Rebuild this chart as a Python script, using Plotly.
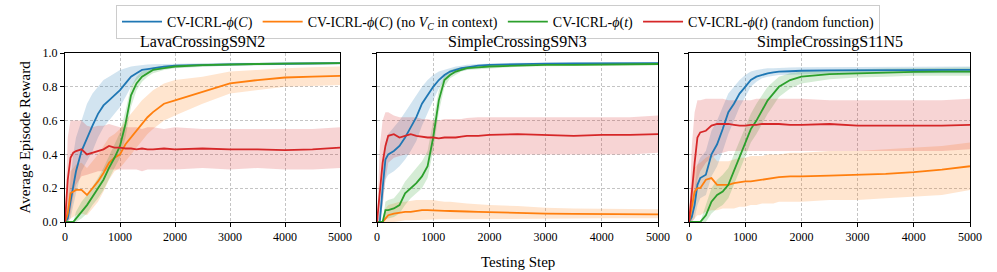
import plotly.graph_objects as go

STEPS = [0, 50, 100, 150, 200, 300, 400, 500, 600, 700, 800, 900, 1000, 1100, 1200,
         1300, 1400, 1500, 1600, 1800, 2000, 2500, 3000, 3500, 4000, 4500, 5000]

PANEL_TITLES = ["LavaCrossingS9N2", "SimpleCrossingS9N3", "SimpleCrossingS11N5"]
SERIES_NAMES = ["CV-ICRL-<i>ϕ</i>(<i>C</i>)",
                "CV-ICRL-<i>ϕ</i>(<i>C</i>) (no <i>V</i><sub><i>C</i></sub> in context)",
                "CV-ICRL-<i>ϕ</i>(<i>t</i>)",
                "CV-ICRL-<i>ϕ</i>(<i>t</i>) (random function)"]
X_TICKS = [0, 1000, 2000, 3000, 4000, 5000]
Y_TICKS = [0.0, 0.2, 0.4, 0.6, 0.8, 1.0]

# ---- LavaCrossingS9N2 ----
lava_blue = [0, 0.02, 0.12, 0.22, 0.3, 0.42, 0.5, 0.57, 0.64, 0.69, 0.72, 0.75, 0.78, 0.82, 0.86, 0.88, 0.9, 0.905, 0.91, 0.92, 0.925, 0.93, 0.933, 0.935, 0.937, 0.938, 0.94]
lava_blue_lo = [0, 0, 0.02, 0.1, 0.17, 0.3, 0.36, 0.42, 0.5, 0.56, 0.6, 0.64, 0.68, 0.74, 0.8, 0.84, 0.87, 0.885, 0.895, 0.905, 0.912, 0.92, 0.925, 0.927, 0.929, 0.93, 0.932]
lava_blue_hi = [0, 0.1, 0.25, 0.4, 0.5, 0.6, 0.7, 0.76, 0.8, 0.84, 0.86, 0.88, 0.9, 0.91, 0.92, 0.925, 0.93, 0.932, 0.934, 0.936, 0.938, 0.94, 0.942, 0.943, 0.944, 0.945, 0.946]
lava_orange = [0, 0.05, 0.17, 0.18, 0.19, 0.19, 0.16, 0.2, 0.24, 0.29, 0.35, 0.38, 0.4, 0.46, 0.5, 0.54, 0.58, 0.62, 0.65, 0.7, 0.72, 0.77, 0.82, 0.84, 0.855, 0.86, 0.865]
lava_orange_lo = [0, 0, 0.02, 0.03, 0.04, 0.05, 0.04, 0.08, 0.12, 0.18, 0.25, 0.3, 0.32, 0.36, 0.4, 0.44, 0.48, 0.52, 0.55, 0.6, 0.63, 0.7, 0.76, 0.78, 0.8, 0.805, 0.81]
lava_orange_hi = [0, 0.15, 0.3, 0.32, 0.34, 0.35, 0.32, 0.36, 0.4, 0.45, 0.5, 0.52, 0.55, 0.6, 0.64, 0.68, 0.72, 0.75, 0.78, 0.82, 0.84, 0.86, 0.89, 0.9, 0.91, 0.915, 0.92]
lava_green = [0, 0, 0, 0, 0.02, 0.06, 0.1, 0.15, 0.2, 0.25, 0.32, 0.38, 0.45, 0.58, 0.75, 0.82, 0.86, 0.88, 0.9, 0.91, 0.92, 0.928, 0.933, 0.935, 0.937, 0.938, 0.94]
lava_green_lo = [0, 0, 0, 0, 0, 0.02, 0.05, 0.1, 0.14, 0.19, 0.26, 0.32, 0.38, 0.5, 0.68, 0.78, 0.83, 0.86, 0.88, 0.9, 0.91, 0.92, 0.926, 0.928, 0.93, 0.932, 0.933]
lava_green_hi = [0, 0, 0, 0, 0.06, 0.12, 0.16, 0.21, 0.26, 0.32, 0.39, 0.45, 0.53, 0.66, 0.8, 0.86, 0.89, 0.9, 0.915, 0.925, 0.93, 0.936, 0.94, 0.942, 0.944, 0.945, 0.946]
lava_red = [0, 0.25, 0.38, 0.41, 0.42, 0.43, 0.4, 0.41, 0.42, 0.43, 0.45, 0.44, 0.44, 0.435, 0.435, 0.43, 0.435, 0.43, 0.43, 0.435, 0.43, 0.435, 0.43, 0.43, 0.425, 0.43, 0.44]
lava_red_lo = [0, 0, 0.05, 0.15, 0.22, 0.27, 0.28, 0.29, 0.3, 0.3, 0.31, 0.31, 0.31, 0.31, 0.31, 0.31, 0.3, 0.31, 0.31, 0.31, 0.31, 0.32, 0.31, 0.32, 0.31, 0.31, 0.32]
lava_red_hi = [0, 0.5, 0.6, 0.6, 0.6, 0.6, 0.57, 0.56, 0.57, 0.57, 0.58, 0.57, 0.56, 0.56, 0.56, 0.56, 0.55, 0.56, 0.56, 0.55, 0.56, 0.55, 0.55, 0.55, 0.55, 0.55, 0.56]

# ---- SimpleCrossingS9N3 ----
s9_blue = [0, 0, 0.2, 0.37, 0.4, 0.42, 0.45, 0.5, 0.56, 0.62, 0.7, 0.75, 0.8, 0.84, 0.87, 0.89, 0.9, 0.91, 0.915, 0.925, 0.93, 0.935, 0.937, 0.938, 0.938, 0.94, 0.94]
s9_blue_lo = [0, 0, 0.1, 0.25, 0.28, 0.3, 0.33, 0.37, 0.42, 0.48, 0.57, 0.65, 0.72, 0.79, 0.84, 0.87, 0.88, 0.895, 0.9, 0.915, 0.92, 0.928, 0.93, 0.932, 0.933, 0.934, 0.935]
s9_blue_hi = [0, 0.05, 0.3, 0.47, 0.52, 0.56, 0.6, 0.65, 0.7, 0.75, 0.8, 0.84, 0.87, 0.89, 0.9, 0.91, 0.92, 0.925, 0.93, 0.935, 0.938, 0.942, 0.943, 0.944, 0.944, 0.945, 0.945]
s9_orange = [0, 0, 0, 0.02, 0.04, 0.05, 0.055, 0.06, 0.06, 0.065, 0.07, 0.07, 0.07, 0.068, 0.066, 0.065, 0.065, 0.063, 0.062, 0.06, 0.058, 0.055, 0.05, 0.048, 0.046, 0.045, 0.045]
s9_orange_lo = [0, 0, 0, 0, 0, 0, 0.005, 0.01, 0.01, 0.012, 0.015, 0.015, 0.015, 0.016, 0.016, 0.017, 0.017, 0.018, 0.018, 0.018, 0.02, 0.02, 0.02, 0.02, 0.022, 0.022, 0.022]
s9_orange_hi = [0, 0, 0, 0.08, 0.1, 0.11, 0.12, 0.12, 0.125, 0.13, 0.13, 0.13, 0.13, 0.125, 0.12, 0.12, 0.118, 0.115, 0.11, 0.105, 0.1, 0.095, 0.085, 0.08, 0.078, 0.076, 0.075]
s9_green = [0, 0, 0, 0.07, 0.07, 0.08, 0.1, 0.17, 0.2, 0.23, 0.27, 0.33, 0.5, 0.72, 0.84, 0.87, 0.89, 0.9, 0.91, 0.915, 0.92, 0.925, 0.93, 0.93, 0.932, 0.933, 0.935]
s9_green_lo = [0, 0, 0, 0.02, 0.02, 0.03, 0.05, 0.1, 0.14, 0.17, 0.2, 0.26, 0.42, 0.65, 0.8, 0.85, 0.87, 0.89, 0.9, 0.905, 0.91, 0.918, 0.922, 0.924, 0.926, 0.927, 0.928]
s9_green_hi = [0, 0, 0, 0.12, 0.13, 0.14, 0.18, 0.24, 0.28, 0.32, 0.36, 0.42, 0.6, 0.78, 0.87, 0.9, 0.91, 0.915, 0.92, 0.925, 0.93, 0.932, 0.936, 0.937, 0.938, 0.94, 0.942]
s9_red = [0, 0.2, 0.35, 0.45, 0.51, 0.52, 0.5, 0.51, 0.52, 0.51, 0.505, 0.5, 0.5, 0.495, 0.5, 0.5, 0.5, 0.505, 0.51, 0.51, 0.515, 0.52, 0.515, 0.51, 0.515, 0.515, 0.52]
s9_red_lo = [0, 0, 0.1, 0.25, 0.35, 0.38, 0.39, 0.4, 0.4, 0.4, 0.4, 0.4, 0.4, 0.4, 0.4, 0.4, 0.4, 0.4, 0.4, 0.4, 0.4, 0.4, 0.4, 0.4, 0.4, 0.4, 0.41]
s9_red_hi = [0, 0.45, 0.6, 0.65, 0.65, 0.63, 0.62, 0.62, 0.62, 0.62, 0.61, 0.61, 0.6, 0.6, 0.61, 0.61, 0.61, 0.61, 0.615, 0.62, 0.62, 0.62, 0.62, 0.62, 0.62, 0.62, 0.63]

# ---- SimpleCrossingS11N5 ----
s11_blue = [0, 0.03, 0.1, 0.22, 0.26, 0.28, 0.4, 0.46, 0.55, 0.65, 0.7, 0.76, 0.8, 0.84, 0.86, 0.87, 0.88, 0.885, 0.89, 0.892, 0.895, 0.897, 0.898, 0.898, 0.899, 0.9, 0.9]
s11_blue_lo = [0, 0, 0.02, 0.1, 0.14, 0.16, 0.27, 0.33, 0.42, 0.52, 0.6, 0.68, 0.74, 0.8, 0.83, 0.85, 0.86, 0.865, 0.87, 0.872, 0.875, 0.878, 0.88, 0.88, 0.88, 0.88, 0.88]
s11_blue_hi = [0, 0.1, 0.2, 0.34, 0.38, 0.42, 0.54, 0.6, 0.68, 0.76, 0.8, 0.84, 0.87, 0.89, 0.9, 0.905, 0.91, 0.91, 0.912, 0.914, 0.915, 0.916, 0.917, 0.918, 0.918, 0.92, 0.92]
s11_orange = [0, 0.1, 0.18, 0.2, 0.2, 0.25, 0.26, 0.22, 0.22, 0.22, 0.23, 0.235, 0.24, 0.24, 0.245, 0.25, 0.255, 0.26, 0.265, 0.27, 0.27, 0.275, 0.28, 0.285, 0.295, 0.31, 0.33]
s11_orange_lo = [0, 0, 0.02, 0.04, 0.04, 0.06, 0.07, 0.07, 0.08, 0.08, 0.08, 0.09, 0.09, 0.1, 0.1, 0.11, 0.11, 0.11, 0.12, 0.12, 0.12, 0.13, 0.13, 0.14, 0.15, 0.16, 0.19]
s11_orange_hi = [0, 0.2, 0.32, 0.34, 0.35, 0.38, 0.4, 0.36, 0.36, 0.36, 0.37, 0.38, 0.38, 0.39, 0.39, 0.39, 0.4, 0.4, 0.4, 0.41, 0.41, 0.42, 0.42, 0.43, 0.44, 0.45, 0.47]
s11_green = [0, 0, 0, 0, 0, 0.04, 0.12, 0.16, 0.18, 0.22, 0.3, 0.38, 0.46, 0.55, 0.6, 0.66, 0.72, 0.76, 0.8, 0.84, 0.86, 0.875, 0.88, 0.885, 0.888, 0.89, 0.89]
s11_green_lo = [0, 0, 0, 0, 0, 0, 0.05, 0.08, 0.1, 0.14, 0.22, 0.3, 0.38, 0.47, 0.52, 0.58, 0.64, 0.69, 0.74, 0.79, 0.82, 0.845, 0.855, 0.86, 0.865, 0.865, 0.865]
s11_green_hi = [0, 0, 0, 0, 0, 0.1, 0.2, 0.25, 0.28, 0.32, 0.4, 0.48, 0.56, 0.64, 0.7, 0.75, 0.8, 0.83, 0.86, 0.88, 0.89, 0.9, 0.905, 0.908, 0.91, 0.912, 0.914]
s11_red = [0, 0.2, 0.35, 0.5, 0.53, 0.54, 0.57, 0.58, 0.58, 0.58, 0.575, 0.57, 0.57, 0.575, 0.575, 0.58, 0.58, 0.58, 0.58, 0.575, 0.575, 0.58, 0.57, 0.57, 0.57, 0.57, 0.575]
s11_red_lo = [0, 0, 0.1, 0.25, 0.3, 0.35, 0.38, 0.4, 0.41, 0.42, 0.42, 0.42, 0.42, 0.42, 0.42, 0.42, 0.42, 0.42, 0.42, 0.42, 0.42, 0.42, 0.42, 0.42, 0.42, 0.42, 0.43]
s11_red_hi = [0, 0.45, 0.65, 0.72, 0.72, 0.73, 0.73, 0.73, 0.73, 0.72, 0.72, 0.72, 0.72, 0.72, 0.73, 0.73, 0.73, 0.73, 0.73, 0.73, 0.73, 0.72, 0.72, 0.72, 0.72, 0.72, 0.73]

COLORS = ["#1f77b4", "#ff7f0e", "#2ca02c", "#d62728"]
FILLS = ["rgba(31,119,180,0.2)", "rgba(255,127,14,0.2)", "rgba(44,160,44,0.2)", "rgba(214,39,40,0.2)"]

panels = [
    [(lava_blue, lava_blue_lo, lava_blue_hi), (lava_orange, lava_orange_lo, lava_orange_hi),
     (lava_green, lava_green_lo, lava_green_hi), (lava_red, lava_red_lo, lava_red_hi)],
    [(s9_blue, s9_blue_lo, s9_blue_hi), (s9_orange, s9_orange_lo, s9_orange_hi),
     (s9_green, s9_green_lo, s9_green_hi), (s9_red, s9_red_lo, s9_red_hi)],
    [(s11_blue, s11_blue_lo, s11_blue_hi), (s11_orange, s11_orange_lo, s11_orange_hi),
     (s11_green, s11_green_lo, s11_green_hi), (s11_red, s11_red_lo, s11_red_hi)],
]

W, H = 997, 272
ML, MR, MT, MB = 65, 27, 53, 50
PW = W - ML - MR
PH = H - MT - MB
px_domains = [(65, 340), (377, 658), (689, 970)]
domains = [((a - ML) / PW, (b - ML) / PW) for a, b in px_domains]

FONT = "Liberation Serif, DejaVu Serif, serif"
fig = go.Figure()

for p, series in enumerate(panels):
    xa = "x" if p == 0 else f"x{p+1}"
    ya = "y" if p == 0 else f"y{p+1}"
    for s, (mean, lo, hi) in enumerate(series):
        fig.add_trace(go.Scatter(x=STEPS, y=lo, mode="lines", line=dict(width=0),
                                 xaxis=xa, yaxis=ya, showlegend=False, hoverinfo="skip"))
        fig.add_trace(go.Scatter(x=STEPS, y=hi, mode="lines", line=dict(width=0),
                                 fill="tonexty", fillcolor=FILLS[s],
                                 xaxis=xa, yaxis=ya, showlegend=False, hoverinfo="skip"))
    for s, (mean, lo, hi) in enumerate(series):
        fig.add_trace(go.Scatter(x=STEPS, y=mean, mode="lines", name=SERIES_NAMES[s],
                                 line=dict(color=COLORS[s], width=1.8),
                                 xaxis=xa, yaxis=ya, showlegend=(p == 0)))

axis_common = dict(showline=True, linecolor="black", linewidth=1, mirror=True,
                   ticks="outside", ticklen=4, tickcolor="black",
                   showgrid=True, gridcolor="#c4c4c4", griddash="3px,2px", gridwidth=0.7,
                   zeroline=False, tickfont=dict(family=FONT, size=12, color="black"))

layout = dict(width=W, height=H,
              margin=dict(l=ML, r=MR, t=MT, b=MB, autoexpand=False),
              plot_bgcolor="white", paper_bgcolor="white",
              font=dict(family=FONT, color="black"),
              legend=dict(orientation="h", x=(498 - ML) / PW, xanchor="center",
                          y=1 + (MT - 5) / PH, yanchor="top", traceorder="normal",
                          bordercolor="#cccccc", borderwidth=1,
                          font=dict(family=FONT, size=14), itemwidth=40,
                          tracegroupgap=0))
annotations = []
for p in range(3):
    sfx = "" if p == 0 else str(p + 1)
    layout[f"xaxis{sfx}"] = dict(domain=list(domains[p]), range=[0, 5000], tickvals=X_TICKS,
                                 anchor=f"y{sfx}", **axis_common)
    layout[f"yaxis{sfx}"] = dict(domain=[0, 1], range=[0, 1.0], tickvals=Y_TICKS,
                                 tickformat=".1f", showticklabels=(p == 0),
                                 anchor=f"x{sfx}", **axis_common)
    annotations.append(dict(text=PANEL_TITLES[p], xref="paper", yref="paper",
                            x=(domains[p][0] + domains[p][1]) / 2, y=1 + 11 / PH,
                            xanchor="center", yanchor="middle", showarrow=False,
                            font=dict(family=FONT, size=16)))
annotations.append(dict(text="Average Episode Reward", xref="paper", yref="paper",
                        x=(24 - ML) / PW, y=0.5, textangle=-90, showarrow=False,
                        xanchor="center", yanchor="middle", font=dict(family=FONT, size=15)))
annotations.append(dict(text="Testing Step", xref="paper", yref="paper",
                        x=(518 - ML) / PW, y=-(262 - (H - MB)) / PH, showarrow=False,
                        xanchor="center", yanchor="middle", font=dict(family=FONT, size=15)))
layout["annotations"] = annotations
fig.update_layout(**layout)
fig.write_html("out.html", config={"displayModeBar": False},
               post_script="document.body.style.margin='0';document.body.style.overflow='hidden';")
